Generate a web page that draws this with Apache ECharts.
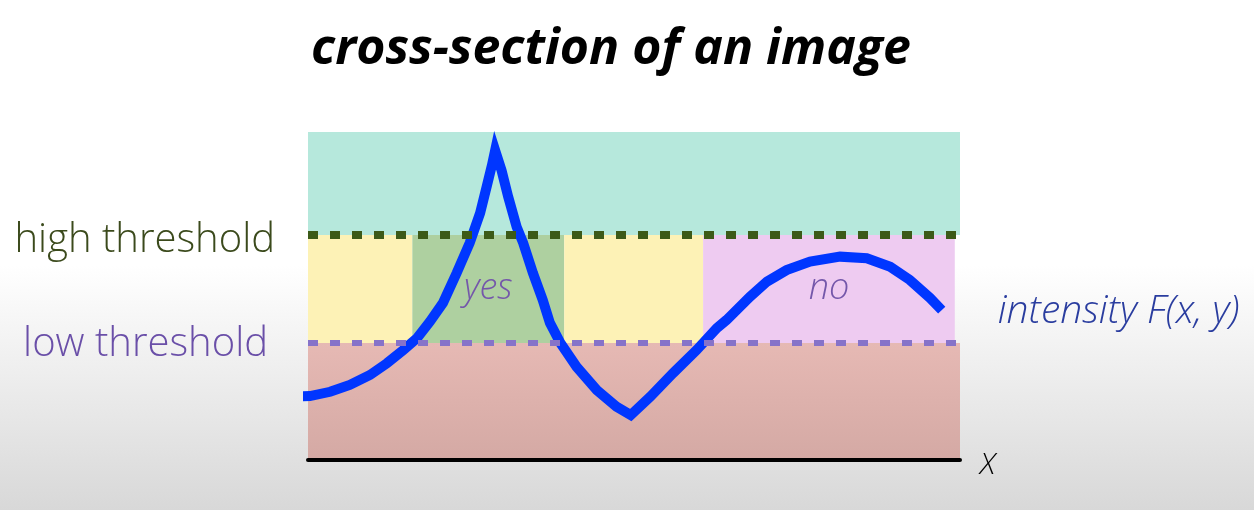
<!DOCTYPE html>
<html>
<head>
<meta charset="utf-8">
<script src="https://cdn.jsdelivr.net/npm/echarts@6/dist/echarts.min.js"></script>
<style>
  html, body { margin: 0; padding: 0; }
  body { background: linear-gradient(to bottom, #ffffff 0%, #ffffff 52%, #d8d8d8 100%); }
  #chart { width: 1254px; height: 510px; }
</style>
</head>
<body>
<div id="chart"></div>
<script>
// position along the cross-section (0..100) and intensity (0..100)
const position = [-2.0, 0.3, 3.4, 6.4, 9.5, 12.1, 14.6, 16.7, 18.7, 20.7, 22.8, 24.8, 26.4, 27.4, 28.2, 28.7, 29.7, 30.7, 32.0, 33.0, 34.5, 36.0, 37.1, 38.7, 41.2, 44.3, 47.3, 49.5, 52.5, 56.0, 59.6, 62.7, 64.2, 67.8, 70.4, 73.4, 77.0, 81.6, 85.7, 89.3, 92.3, 95.4, 97.2];
const intensity = [19.3, 19.5, 20.8, 22.9, 25.9, 29.5, 33.5, 37.1, 42.2, 47.9, 57.0, 66.2, 75.3, 83.3, 89.8, 94.4, 88.2, 80.3, 71.1, 66.2, 57.0, 48.8, 41.8, 35.7, 28.4, 21.3, 16.3, 13.7, 19.3, 26.5, 33.5, 40.2, 42.7, 49.8, 54.4, 57.9, 60.5, 62.0, 61.5, 58.9, 54.9, 49.4, 45.7];

const highThreshold = 68.6;
const lowThreshold = 35.7;

// zones between the two thresholds
const zoneStart = [0, 16.0, 39.3, 60.6];
const zoneEnd = [16.0, 39.3, 60.6, 99.2];
const zoneLabel = ["", "yes", "", "no"];
const zoneColor = ["#fdf2b6", "#aed0a0", "#fdf2b6", "#eecbf1"];

const font = "'Open Sans', 'Noto Sans', sans-serif";

const chart = echarts.init(document.getElementById("chart"));

const areas = [
  [
    { xAxis: 0, yAxis: highThreshold, itemStyle: { color: "#b6e8dc" } },
    { xAxis: 100, yAxis: 100 }
  ],
  [
    {
      xAxis: 0, yAxis: 0,
      itemStyle: {
        color: new echarts.graphic.LinearGradient(0, 0, 0, 1, [
          { offset: 0, color: "#e6b9b4" },
          { offset: 1, color: "#d4a9a4" }
        ])
      }
    },
    { xAxis: 100, yAxis: lowThreshold }
  ]
];
zoneStart.forEach((s, i) => {
  areas.push([
    {
      xAxis: s, yAxis: lowThreshold,
      itemStyle: { color: zoneColor[i] },
      label: {
        show: zoneLabel[i] !== "",
        formatter: zoneLabel[i],
        position: "inside",
        color: "#7457aa",
        fontFamily: font,
        fontStyle: "italic",
        fontWeight: 300,
        fontSize: 36
      }
    },
    { xAxis: zoneEnd[i], yAxis: highThreshold }
  ]);
});

chart.setOption({
  backgroundColor: "transparent",
  animation: false,
  title: {
    text: "cross-section of an image",
    left: 306,
    top: 20,
    textStyle: {
      fontFamily: font,
      fontStyle: "italic",
      fontWeight: "bold",
      fontSize: 50,
      color: "#000"
    }
  },
  grid: { left: 308, right: 294, top: 132, bottom: 50 },
  xAxis: {
    type: "value",
    min: 0,
    max: 100,
    z: 10,
    name: "{x|X}",
    nameLocation: "end",
    nameGap: 20,
    nameTextStyle: {
      verticalAlign: "middle",
      rich: {
        x: {
          fontFamily: font,
          fontStyle: "italic",
          fontWeight: 300,
          fontSize: 30,
          color: "#000",
          padding: [10, 0, 0, 0]
        }
      }
    },
    axisLine: { show: true, lineStyle: { color: "#000", width: 4 } },
    axisTick: { show: false },
    axisLabel: { show: false },
    splitLine: { show: false }
  },
  yAxis: {
    type: "value",
    min: 0,
    max: 100,
    axisLine: { show: false },
    axisTick: { show: false },
    axisLabel: { show: false },
    splitLine: { show: false }
  },
  series: [
    {
      type: "line",
      data: position.map((x, i) => [x, intensity[i]]),
      clip: false,
      symbol: "none",
      smooth: false,
      z: 5,
      lineStyle: { color: "#0036ff", width: 10, join: "miter", cap: "butt" },
      endLabel: {
        show: true,
        formatter: "intensity F(x, y)",
        distance: 56,
        fontFamily: font,
        fontStyle: "italic",
        fontWeight: 300,
        fontSize: 39,
        color: "#2a3d9f",
        offset: [0, 2]
      },
      markArea: { silent: true, data: areas },
      markLine: {
        silent: true,
        symbol: "none",
        z: 6,
        data: [
          {
            yAxis: highThreshold,
            name: "high threshold",
            lineStyle: { color: "#3c5a18", width: 8, type: [10, 12], cap: "butt" },
            label: {
              show: true, position: "start", distance: 33, formatter: "{b}",
              fontFamily: font, fontWeight: 300, fontSize: 40, color: "#3b4a1c",
              offset: [0, 6]
            }
          },
          {
            yAxis: lowThreshold,
            name: "low threshold",
            lineStyle: { color: "#8673c9", width: 6, type: [10, 12], cap: "butt" },
            label: {
              show: true, position: "start", distance: 40, formatter: "{b}",
              fontFamily: font, fontWeight: 300, fontSize: 40, color: "#6a4fa8",
              offset: [0, 2]
            }
          }
        ]
      }
    }
  ]
});
</script>
</body>
</html>
